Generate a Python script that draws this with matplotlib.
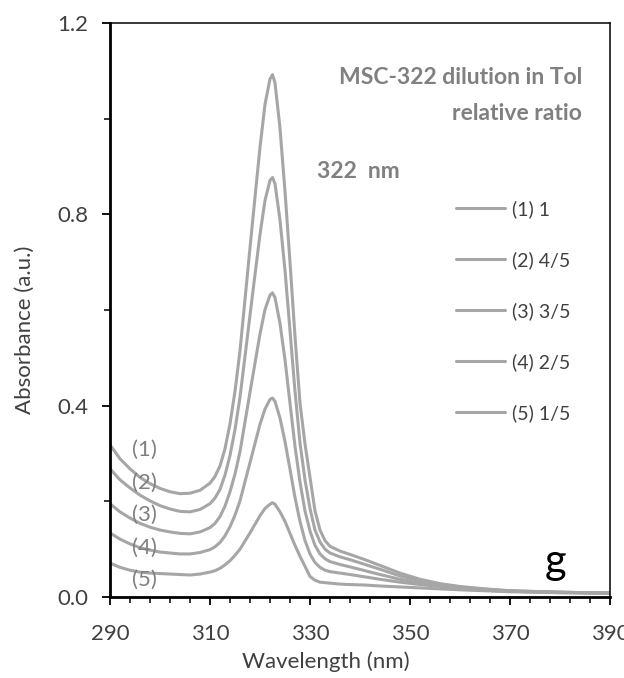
import matplotlib
matplotlib.use("Agg")
import matplotlib.pyplot as plt
from matplotlib.ticker import FixedLocator

plt.rcParams['font.family'] = ['Lato', 'DejaVu Sans']

wavelength = [290, 292, 294, 296, 298, 300, 302, 304, 306, 308,
              310, 311, 312, 313, 314, 315, 316, 317, 318, 319, 320, 321, 322, 322.5,
              323, 324, 325, 326, 327, 328, 329, 330, 331, 332, 333, 334,
              336, 338, 341, 344, 348, 352, 356, 360, 365, 370, 380, 390]

abs_1 = [0.318, 0.289, 0.268, 0.250, 0.237, 0.227, 0.220, 0.216, 0.217, 0.223,
         0.238, 0.252, 0.274, 0.310, 0.362, 0.430, 0.515, 0.622, 0.730, 0.836, 0.940, 1.030, 1.083, 1.092,
         1.075, 0.980, 0.848, 0.700, 0.545, 0.405, 0.320, 0.250, 0.180, 0.140, 0.118, 0.106,
         0.096, 0.089, 0.078, 0.066, 0.050, 0.037, 0.028, 0.022, 0.017, 0.013, 0.010, 0.008]

abs_2 = [0.268, 0.245, 0.228, 0.213, 0.201, 0.191, 0.184, 0.179, 0.178, 0.183,
         0.195, 0.207, 0.225, 0.255, 0.296, 0.350, 0.418, 0.503, 0.589, 0.674, 0.758, 0.829, 0.871, 0.877,
         0.864, 0.788, 0.683, 0.557, 0.430, 0.322, 0.245, 0.185, 0.140, 0.115, 0.100, 0.092,
         0.084, 0.078, 0.068, 0.058, 0.044, 0.034, 0.026, 0.020, 0.016, 0.013, 0.010, 0.008]

abs_3 = [0.195, 0.178, 0.165, 0.154, 0.146, 0.140, 0.136, 0.133, 0.132, 0.136,
         0.145, 0.154, 0.168, 0.190, 0.220, 0.257, 0.304, 0.366, 0.428, 0.489, 0.550, 0.601, 0.631, 0.636,
         0.626, 0.572, 0.496, 0.405, 0.315, 0.240, 0.180, 0.138, 0.108, 0.090, 0.080, 0.074,
         0.068, 0.063, 0.055, 0.047, 0.037, 0.030, 0.024, 0.019, 0.015, 0.012, 0.010, 0.008]

abs_4 = [0.134, 0.121, 0.111, 0.103, 0.098, 0.094, 0.092, 0.090, 0.090, 0.093,
         0.099, 0.105, 0.114, 0.128, 0.147, 0.171, 0.201, 0.241, 0.281, 0.321, 0.361, 0.393, 0.413, 0.416,
         0.409, 0.374, 0.325, 0.267, 0.208, 0.158, 0.118, 0.090, 0.072, 0.062, 0.056, 0.053,
         0.050, 0.047, 0.042, 0.037, 0.031, 0.026, 0.022, 0.018, 0.014, 0.012, 0.009, 0.008]

abs_5 = [0.071, 0.062, 0.056, 0.052, 0.050, 0.049, 0.048, 0.047, 0.046, 0.048,
         0.052, 0.055, 0.060, 0.067, 0.076, 0.087, 0.100, 0.117, 0.134, 0.152, 0.170, 0.185, 0.194, 0.197,
         0.194, 0.178, 0.158, 0.133, 0.108, 0.085, 0.064, 0.043, 0.035, 0.031, 0.030, 0.029,
         0.027, 0.026, 0.025, 0.023, 0.021, 0.019, 0.017, 0.015, 0.013, 0.011, 0.009, 0.008]

series = [abs_1, abs_2, abs_3, abs_4, abs_5]
legend_labels = ["(1) 1", "(2) 4/5", "(3) 3/5", "(4) 2/5", "(5) 1/5"]
curve_tags = ["(1)", "(2)", "(3)", "(4)", "(5)"]
tag_y = [0.308, 0.239, 0.172, 0.103, 0.036]

x_major = [290, 310, 330, 350, 370, 390]
x_minor = list(range(290, 391, 4))
y_major = [0.0, 0.4, 0.8, 1.2]
y_minor = [0.2, 0.6, 1.0]

line_color = "#a6a6a6"
text_gray = "#808080"
label_color = "#404040"

fig = plt.figure(figsize=(6.24, 6.78), dpi=100)
ax = fig.add_axes([110/624, 1-597/678, 500/624, 574/678])

for vals, lab in zip(series, legend_labels):
    ax.plot(wavelength, vals, color=line_color, lw=2.2, label=lab,
            solid_joinstyle='round', solid_capstyle='round')

ax.set_xlim(290, 390)
ax.set_ylim(0, 1.2)
ax.xaxis.set_major_locator(FixedLocator(x_major))
ax.xaxis.set_minor_locator(FixedLocator(x_minor))
ax.yaxis.set_major_locator(FixedLocator(y_major))
ax.yaxis.set_minor_locator(FixedLocator(y_minor))
ax.yaxis.set_major_formatter(plt.FuncFormatter(lambda v, p: f"{v:.1f}"))

ax.tick_params(axis='both', which='major', direction='out', length=5.5, width=1.3,
               labelsize=16, labelcolor=label_color, color='black')
ax.tick_params(axis='both', which='minor', direction='out', length=4.5, width=1.1, color='black')
ax.tick_params(axis='x', which='major', pad=14)
ax.tick_params(axis='y', which='major', pad=10)

for side in ['left', 'bottom']:
    ax.spines[side].set_linewidth(2.0)
for side in ['top', 'right']:
    ax.spines[side].set_linewidth(1.1)

ax.set_xlabel("Wavelength (nm)", fontsize=16, color=label_color, va='center')
ax.set_ylabel("Absorbance (a.u.)", fontsize=16, color=label_color, va='center')
ax.xaxis.set_label_coords(0.432, (597-662)/574)
ax.yaxis.set_label_coords(-0.17, 0.465)

leg = ax.legend(loc='upper left', bbox_to_anchor=(456/624, 1-200/678),
                bbox_transform=fig.transFigure, frameon=False, fontsize=14,
                handlelength=2.5, handletextpad=0.36, labelspacing=1.7,
                borderpad=0, borderaxespad=0)
for t in leg.get_texts():
    t.set_color(label_color)

ax.text(582/624, 1-78/678, "MSC-322 dilution in Tol", transform=fig.transFigure,
        ha='right', va='center', fontsize=16.5, fontweight='bold', color=text_gray)
ax.text(582/624, 1-113/678, "relative ratio", transform=fig.transFigure,
        ha='right', va='center', fontsize=16.5, fontweight='bold', color=text_gray)
ax.text(317/624, 1-172/678, "322  nm", transform=fig.transFigure,
        ha='left', va='center', fontsize=16.5, fontweight='bold', color=text_gray)

for tag, ty in zip(curve_tags, tag_y):
    ax.text(296.8, ty, tag, ha='center', va='center', fontsize=16, color=text_gray)

ax.text(556/624, 1-562/678, "g", transform=fig.transFigure, ha='center', va='center',
        fontsize=30, color='black')

fig.savefig("out.png", dpi=100)
